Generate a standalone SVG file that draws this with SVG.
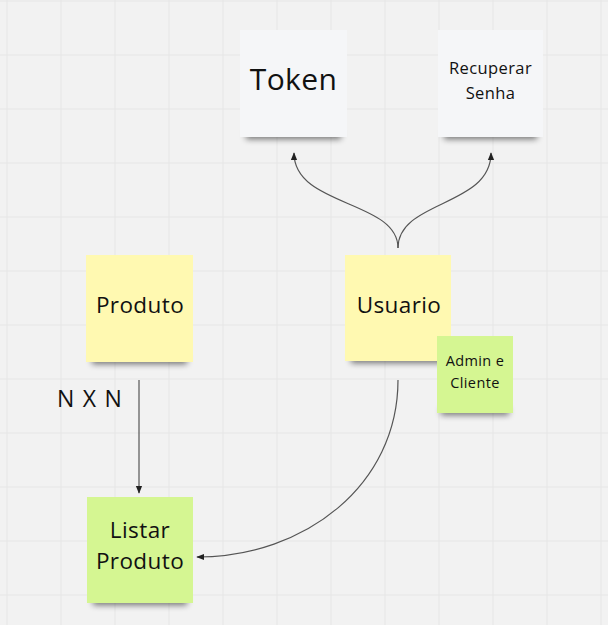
<svg xmlns="http://www.w3.org/2000/svg" width="608" height="625" viewBox="0 0 608 625">
<defs>
<style>
.bg{fill:#f2f2f2}
.grid line{stroke:#e6e6e6;stroke-width:1}
.note{stroke:none}
.white{fill:#f5f6f8}
.yellow{fill:#fff9b1}
.green{fill:#d5f692}
.shadow{fill:#000;opacity:0.55;filter:url(#blur)}
text{font-family:"Open Sans","Noto Sans","Liberation Sans",sans-serif;fill:#111;text-anchor:middle;letter-spacing:0.4px}
.conn path{fill:none;stroke:#555;stroke-width:1.2}
</style>
<filter id="blur" x="-20%" y="-100%" width="140%" height="300%"><feGaussianBlur stdDeviation="3"/></filter>
<marker id="arr" viewBox="0 0 10 10" refX="9" refY="5" markerWidth="8" markerHeight="8" markerUnits="userSpaceOnUse" orient="auto"><path d="M0,1 L10,5 L0,9 Z" fill="#222"/></marker>
</defs>
<rect class="bg" x="0" y="0" width="608" height="625"/>
<g class="grid">
<line x1="7" y1="0" x2="7" y2="625"/><line x1="61" y1="0" x2="61" y2="625"/><line x1="115" y1="0" x2="115" y2="625"/><line x1="169" y1="0" x2="169" y2="625"/><line x1="223" y1="0" x2="223" y2="625"/><line x1="277" y1="0" x2="277" y2="625"/><line x1="331" y1="0" x2="331" y2="625"/><line x1="385" y1="0" x2="385" y2="625"/><line x1="439" y1="0" x2="439" y2="625"/><line x1="493" y1="0" x2="493" y2="625"/><line x1="547" y1="0" x2="547" y2="625"/><line x1="601" y1="0" x2="601" y2="625"/>
<line x1="0" y1="1" x2="608" y2="1"/><line x1="0" y1="55" x2="608" y2="55"/><line x1="0" y1="109" x2="608" y2="109"/><line x1="0" y1="163" x2="608" y2="163"/><line x1="0" y1="217" x2="608" y2="217"/><line x1="0" y1="271" x2="608" y2="271"/><line x1="0" y1="325" x2="608" y2="325"/><line x1="0" y1="379" x2="608" y2="379"/><line x1="0" y1="433" x2="608" y2="433"/><line x1="0" y1="487" x2="608" y2="487"/><line x1="0" y1="541" x2="608" y2="541"/><line x1="0" y1="595" x2="608" y2="595"/>
</g>
<g id="token">
<rect class="shadow" x="246" y="131" width="95" height="8"/>
<rect class="note white" x="240" y="30" width="107" height="107"/>
<text x="293.5" y="90" font-size="30">Token</text>
</g>
<g id="recuperar-senha">
<rect class="shadow" x="444" y="131" width="93" height="8"/>
<rect class="note white" x="438" y="30" width="105" height="107"/>
<text x="490.5" y="74" font-size="16.5">Recuperar</text>
<text x="490.5" y="99" font-size="16.5">Senha</text>
</g>
<g id="produto">
<rect class="shadow" x="92" y="356" width="95" height="8"/>
<rect class="note yellow" x="86" y="255" width="107" height="107"/>
<text x="140" y="313" font-size="22.5">Produto</text>
</g>
<g id="usuario">
<rect class="shadow" x="351" y="355" width="94" height="8"/>
<rect class="note yellow" x="345" y="255" width="106" height="106"/>
<text x="399" y="313" font-size="22.5">Usuario</text>
</g>
<g id="admin-cliente">
<rect class="shadow" x="441" y="408" width="68" height="7"/>
<rect class="note green" x="437" y="336" width="76" height="77"/>
<text x="475" y="366" font-size="14.5">Admin e</text>
<text x="475" y="388" font-size="14.5">Cliente</text>
</g>
<g id="listar-produto">
<rect class="shadow" x="93" y="597" width="94" height="8"/>
<rect class="note green" x="87" y="497" width="106" height="106"/>
<text x="140" y="538" font-size="22.5">Listar</text>
<text x="140" y="569" font-size="22.5">Produto</text>
</g>
<g id="label-nxn">
<text x="90" y="407" font-size="23" style="letter-spacing:1.2px">N X N</text>
</g>
<g class="conn">
<path d="M139,380 L139,493" marker-end="url(#arr)"/>
<path d="M398,380 C398,485 305,557 197,557" marker-end="url(#arr)"/>
<path d="M398,248 C398,200 294,207 294,153" marker-end="url(#arr)"/>
<path d="M398,248 C398,200 491,207 491,153" marker-end="url(#arr)"/>
</g>
</svg>
